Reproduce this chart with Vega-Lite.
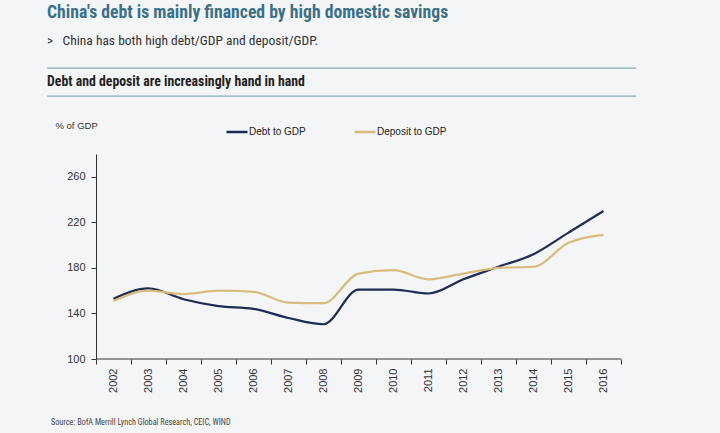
{
  "$schema": "https://vega.github.io/schema/vega-lite/v6.json",
  "background": "#f4f5f7",
  "padding": {"left": 41, "top": 4, "right": 84, "bottom": 7},
  "spacing": 23,
  "config": {"view": {"stroke": null}, "font": "Liberation Sans"},
  "title": {
    "text": "China's debt is mainly financed by high domestic savings",
    "subtitle": ">\u00a0\u00a0\u00a0China has both high debt/GDP and deposit/GDP.",
    "anchor": "start",
    "frame": "group",
    "font": "Roboto Condensed, Lato",
    "fontSize": 17.7,
    "fontWeight": "bold",
    "color": "#3a7088",
    "subtitleFont": "Roboto Condensed, Lato",
    "subtitleFontSize": 13.5,
    "subtitleColor": "#333333",
    "subtitlePadding": 12,
    "offset": 20
  },
  "datasets": {
    "series": [
      {"year": "2002", "series": "Debt to GDP", "value": 153},
      {"year": "2003", "series": "Debt to GDP", "value": 162},
      {"year": "2004", "series": "Debt to GDP", "value": 152.5},
      {"year": "2005", "series": "Debt to GDP", "value": 146.5},
      {"year": "2006", "series": "Debt to GDP", "value": 144},
      {"year": "2007", "series": "Debt to GDP", "value": 136},
      {"year": "2008", "series": "Debt to GDP", "value": 130.5},
      {"year": "2009", "series": "Debt to GDP", "value": 161},
      {"year": "2010", "series": "Debt to GDP", "value": 161},
      {"year": "2011", "series": "Debt to GDP", "value": 157.5},
      {"year": "2012", "series": "Debt to GDP", "value": 170},
      {"year": "2013", "series": "Debt to GDP", "value": 181},
      {"year": "2014", "series": "Debt to GDP", "value": 192},
      {"year": "2015", "series": "Debt to GDP", "value": 211},
      {"year": "2016", "series": "Debt to GDP", "value": 230},
      {"year": "2002", "series": "Deposit to GDP", "value": 151},
      {"year": "2003", "series": "Deposit to GDP", "value": 160},
      {"year": "2004", "series": "Deposit to GDP", "value": 157},
      {"year": "2005", "series": "Deposit to GDP", "value": 160},
      {"year": "2006", "series": "Deposit to GDP", "value": 159},
      {"year": "2007", "series": "Deposit to GDP", "value": 149.5},
      {"year": "2008", "series": "Deposit to GDP", "value": 149},
      {"year": "2009", "series": "Deposit to GDP", "value": 175},
      {"year": "2010", "series": "Deposit to GDP", "value": 178},
      {"year": "2011", "series": "Deposit to GDP", "value": 170},
      {"year": "2012", "series": "Deposit to GDP", "value": 175},
      {"year": "2013", "series": "Deposit to GDP", "value": 180},
      {"year": "2014", "series": "Deposit to GDP", "value": 181},
      {"year": "2015", "series": "Deposit to GDP", "value": 202},
      {"year": "2016", "series": "Deposit to GDP", "value": 209}
    ]
  },
  "vconcat": [
    {
      "data": {"values": []},
      "mark": "point",
      "width": 589,
      "height": 28,
      "view": {"stroke": "#86a9b6", "strokeWidth": 1.3, "strokeDash": [589, 28]},
      "title": {
        "text": "Debt and deposit are increasingly hand in hand",
        "orient": "bottom",
        "anchor": "start",
        "offset": -21,
        "font": "Roboto Condensed, Lato",
        "fontSize": 13.8,
        "fontWeight": "bold",
        "color": "#222222"
      }
    },
    {
      "width": 589,
      "height": 205,
      "title": {
        "text": "Source: BofA Merrill Lynch Global Research, CEIC, WIND",
        "orient": "bottom",
        "anchor": "start",
        "dx": 10,
        "offset": 27,
        "font": "Roboto Condensed, Lato",
        "fontSize": 8.2,
        "fontWeight": "normal",
        "color": "#444444"
      },
      "layer": [
        {
          "data": {"name": "series"},
          "mark": {"type": "line", "interpolate": "monotone", "strokeWidth": 2.2},
          "encoding": {
            "x": {
              "field": "year",
              "type": "ordinal",
              "scale": {"type": "band", "paddingInner": 0, "paddingOuter": 0.9143, "align": 0.7656},
              "axis": {
                "title": null,
                "domain": false,
                "tickBand": "extent",
                "labelAngle": -90,
                "labelAlign": "right",
                "labelBaseline": "middle",
                "labelFontSize": 11,
                "labelColor": "#333333",
                "labelPadding": 4,
                "tickColor": "#333333",
                "tickSize": 5,
                "grid": false
              }
            },
            "y": {
              "field": "value",
              "type": "quantitative",
              "scale": {"domain": [100, 280], "nice": false, "zero": false},
              "axis": {
                "offset": -49,
                "values": [100, 140, 180, 220, 260],
                "grid": false,
                "title": "% of GDP",
                "titleAngle": 0,
                "titleX": -41,
                "titleY": -29,
                "titleAlign": "left",
                "titleBaseline": "middle",
                "titleFontSize": 9.5,
                "titleFontWeight": "normal",
                "titleColor": "#333333",
                "labelFontSize": 11,
                "labelColor": "#333333",
                "labelPadding": 6,
                "domainColor": "#333333",
                "tickColor": "#333333",
                "tickSize": 5
              }
            },
            "color": {
              "field": "series",
              "type": "nominal",
              "scale": {"domain": ["Debt to GDP", "Deposit to GDP"], "range": ["#1f2b52", "#d6bd7d"]},
              "legend": {
                "title": null,
                "orient": "none",
                "direction": "horizontal",
                "legendX": 178,
                "legendY": 52,
                "padding": 0,
                "symbolType": "stroke",
                "symbolSize": 441,
                "symbolStrokeWidth": 2.5,
                "labelFontSize": 10,
                "labelColor": "#222222",
                "labelOffset": 0,
                "columnPadding": 43
              }
            }
          }
        },
        {
          "data": {"values": [{}]},
          "mark": {"type": "rule", "color": "#333333", "strokeWidth": 1},
          "encoding": {
            "x": {"datum": "2002", "bandPosition": 0},
            "x2": {"datum": "2016", "bandPosition": 1},
            "y": {"datum": 100}
          }
        }
      ]
    }
  ]
}
